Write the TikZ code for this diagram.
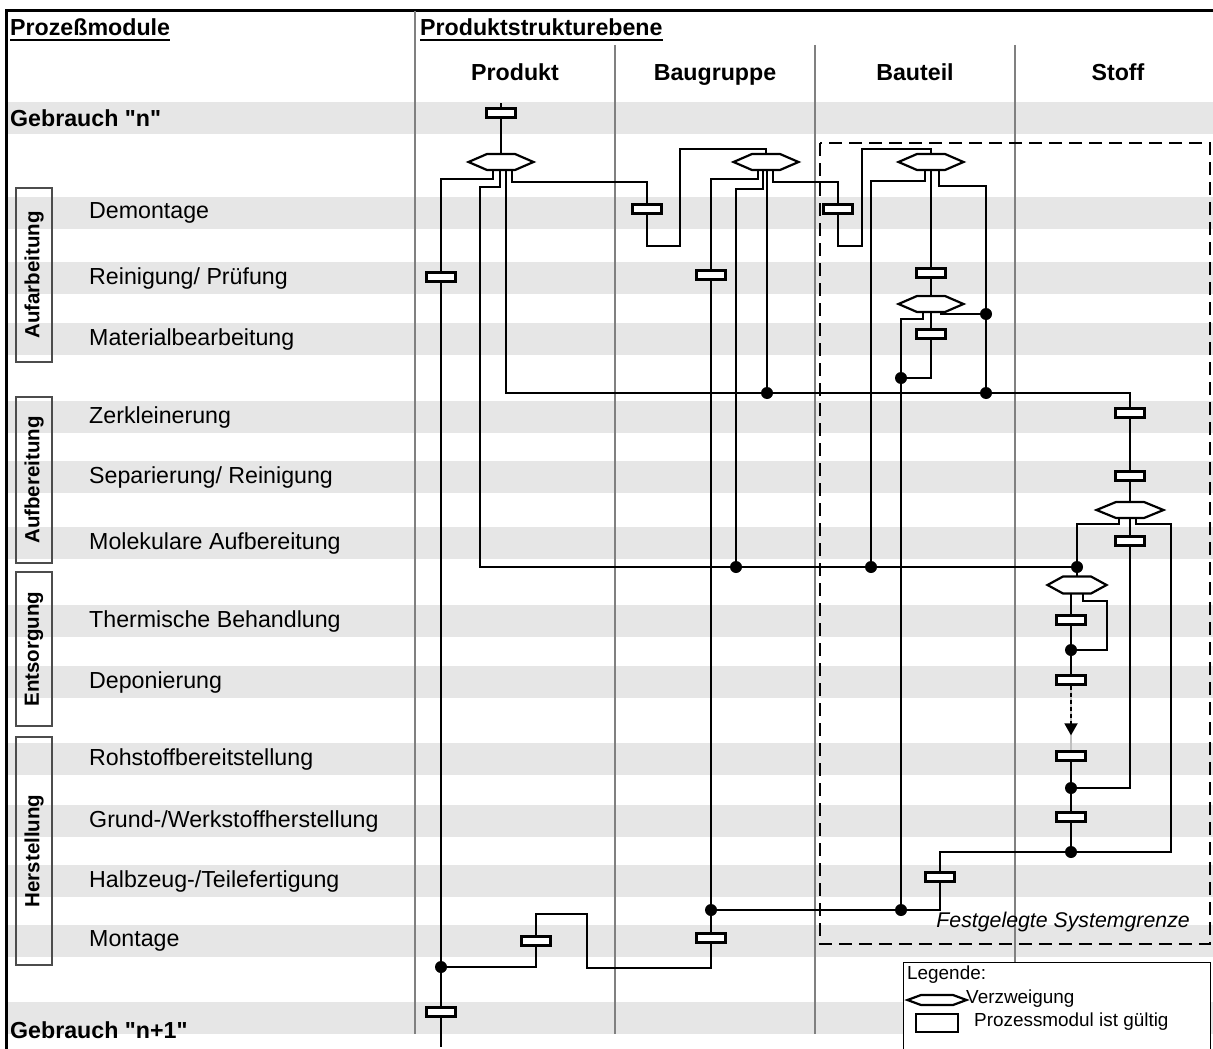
\documentclass[tikz,border=0pt]{standalone}
\usepackage{fontspec}
\setmainfont{Liberation Sans}
% same family without the TeX input mapping, so that " stays a straight quote
\newfontfamily\straightqfont{Liberation Sans}
\usetikzlibrary{calc,arrows.meta}

\definecolor{bandgrey}{RGB}{230,230,230}
\definecolor{colgrey}{RGB}{128,128,128}

% branching symbol: an invisible box carrying the anchors, outlined as a flat hexagon
\newcommand\vzw[5]{%
  \node[vzbox, minimum width=#3pt, minimum height=#4pt] (#1) at #2 {};
  \draw[vzline] (#1.west) -- ([xshift=-#5pt]#1.north) -- ([xshift=#5pt]#1.north)
    -- (#1.east) -- ([xshift=#5pt]#1.south) -- ([xshift=-#5pt]#1.south) -- cycle;}

\begin{document}
\begin{tikzpicture}[x=1pt,y=-1pt,
  rowlab/.style={font=\fontsize{23.2}{28}\selectfont, anchor=west, inner sep=0pt},
  hdr/.style={font=\bfseries\fontsize{23.2}{28}\selectfont, inner sep=0pt},
  usehdr/.style={font=\straightqfont\bfseries\fontsize{23.2}{28}\selectfont, inner sep=0pt, anchor=base west},
  grpbox/.style={draw=black!70, line width=1.2pt, rotate=90, inner sep=0pt,
    minimum height=36pt, font=\bfseries\fontsize{20.5}{24}\selectfont},
  pm/.style={draw, line width=2.3pt, fill=white, minimum width=29pt, minimum height=9pt, inner sep=0pt},
  vzbox/.style={inner sep=0pt, outer sep=0pt},
  vzline/.style={draw, line width=2.2pt, fill=white, line join=miter},
  jn/.style={circle, fill=black, inner sep=0pt, minimum size=12pt},
  cn/.style={line width=2.1pt},
  legtext/.style={font=\fontsize{18.9}{22}\selectfont, anchor=west, inner sep=0pt}]

\useasboundingbox (0,0) rectangle (1213,1049);

% row bands
\foreach \yc in {118,213,278,339,417,477,543,621,682,759,821,881,941,1018}
  \fill[bandgrey] (8,\yc-16) rectangle (1213,\yc+16);

% frame
\draw[line width=3pt] (6,1049) -- (6,11) -- (1213,11);

% column separators
\draw[colgrey, line width=1.5pt] (415,11) -- (415,1034);
\foreach \x in {615,815,1015}
  \draw[colgrey, line width=1.5pt] (\x,45) -- (\x,1034);

% headings
\node[hdr, anchor=base west] (hP) at (10,36) {Prozeßmodule};
\draw[line width=2pt] ([yshift=-4pt]hP.base west) -- ([yshift=-4pt]hP.base east);
\node[hdr, anchor=base west] (hS) at (420,36) {Produktstrukturebene};
\draw[line width=2pt] ([yshift=-4pt]hS.base west) -- ([yshift=-4pt]hS.base east);

\node[hdr, anchor=base] (cP) at (515,81) {Produkt};
\node[hdr, anchor=base] (cB) at (715,81) {Baugruppe};
\node[hdr, anchor=base] (cT) at (915,81) {Bauteil};
\node[hdr, anchor=base] (cS) at (1118,81) {Stoff};

% process module labels
\node[usehdr] (gn) at (10,126) {Gebrauch "n"};
\node[usehdr] (gn1) at (10,1038) {Gebrauch "n+1"};
\node[rowlab] (r1) at (89,213) {Demontage};
\node[rowlab] (r2) at (89,278) {Reinigung/ Prüfung};
\node[rowlab] (r3) at (89,339) {Materialbearbeitung};
\node[rowlab] (r4) at (89,417) {Zerkleinerung};
\node[rowlab] (r5) at (89,477) {Separierung/ Reinigung};
\node[rowlab] (r6) at (89,543) {Molekulare Aufbereitung};
\node[rowlab] (r7) at (89,621) {Thermische Behandlung};
\node[rowlab] (r8) at (89,682) {Deponierung};
\node[rowlab] (r9) at (89,759) {Rohstoffbereitstellung};
\node[rowlab] (r10) at (89,821) {Grund-/Werkstoffherstellung};
\node[rowlab] (r11) at (89,881) {Halbzeug-/Teilefertigung};
\node[rowlab] (r12) at (89,941) {Montage};

% groups of process modules
\node[grpbox, minimum width=174pt] (gA) at (34,275) {Aufarbeitung};
\node[grpbox, minimum width=166pt] (gB) at (34,480) {Aufbereitung};
\node[grpbox, minimum width=154pt] (gC) at (34,649) {Entsorgung};
\node[grpbox, minimum width=228pt] (gD) at (34,851) {Herstellung};

% system boundary
\draw[line width=2.4pt, dash pattern=on 13pt off 7pt] (820,143) rectangle (1210,944);
\node[font=\itshape\fontsize{21.3}{25}\selectfont, anchor=east, inner sep=0pt] (sg) at (1190,922) {Festgelegte Systemgrenze};

% free ends of the product stream
\coordinate (uTop) at (501,103);
\coordinate (pEnd) at (441,1047);

% process modules
\node[pm] (g1) at (501,113) {};
\node[pm] (p1) at (441,277) {};
\node[pm] (p2) at (441,1012) {};
\node[pm] (pMont) at (536,941) {};
\node[pm] (b1) at (647,209) {};
\node[pm] (b2) at (711,275) {};
\node[pm] (bMont) at (711,938) {};
\node[pm] (t1) at (838,209) {};
\node[pm] (t2) at (931,273) {};
\node[pm] (t3) at (931,334) {};
\node[pm] (tH) at (940,877) {};
\node[pm] (s1) at (1130,413) {};
\node[pm] (s2) at (1130,476) {};
\node[pm] (s3) at (1130,541) {};
\node[pm] (s4) at (1071,620) {};
\node[pm] (s5) at (1071,680) {};
\node[pm] (s6) at (1071,756) {};
\node[pm] (s7) at (1071,817) {};

% junctions
\node[jn] (d1) at (441,967) {};
\node[jn] (d2) at (711,910) {};
\node[jn] (d3) at (901,910) {};
\node[jn] (d4) at (767,393) {};
\node[jn] (d5) at (986,393) {};
\node[jn] (d6) at (986,314) {};
\node[jn] (d7) at (901,378) {};
\node[jn] (d8) at (736,567) {};
\node[jn] (d9) at (871,567) {};
\node[jn] (d10) at (1077,567) {};
\node[jn] (d11) at (1071,650) {};
\node[jn] (d12) at (1071,788) {};
\node[jn] (d13) at (1071,852) {};

% flows
\begin{scope}[cn]
  % product level
  \draw (uTop) -- (g1);
  \draw (g1) -- (501,154);
  \draw ([xshift=-8pt]501,170) -- ++(0,9) -| (p1.north);
  \draw (p1) -- (d1); \draw (d1) -- (p2); \draw (p2) -- (pEnd);
  \draw ([xshift=-1pt]501,170) -- ++(0,17) -- ++(-20,0) |- (d10);
  \draw ([xshift=5pt]501,170) -- ++(0,223) -| (s1.north);
  \draw ([xshift=11pt]501,170) -- ++(0,12) -| (b1.north);
  % assembly level
  \draw (b1.south) -- ++(0,31) -- ++(33,0) -- ++(0,-96.5) -| (766,154);
  \draw ([xshift=-8pt]766,170) -- ++(0,9) -| (b2.north);
  \draw (b2) -- (d2); \draw (d2) -- (bMont);
  \draw (bMont.south) -- ++(0,24) -- ++(-124,0) -- ++(0,-54) -| (pMont.north);
  \draw (pMont.south) |- (d1);
  \draw ([xshift=-3pt]766,170) -- ++(0,19) -| (d8);
  \draw (d4 |- 0,170) -- (d4);
  \draw ([xshift=7pt]766,170) -- ++(0,12) -| (t1.north);
  % component level
  \draw (t1.south) -- ++(0,31) -- ++(24,0) -- ++(0,-96.5) -| (931,154);
  \draw ([xshift=-6pt]931,170) -- ++(0,11) -| (d9);
  \draw (931,170) -- (t2.north); \draw (t2.south) -- (931,296);
  \draw ([xshift=8pt]931,170) -- ++(0,16) -| (d6);
  \draw (d6) -- (d5);
  \draw ([xshift=-8pt]931,312) -- ++(0,7) -| (d7);
  \draw (d7) -- (d3);
  \draw (931,312) -- (t3.north);
  \draw (t3.south) |- (d7);
  \draw ([xshift=10pt]931,312) |- (d6);
  \draw (d2) -| (tH.south);
  \draw (tH.north) |- (d13);
  % material level
  \draw (s1) -- (s2); \draw (s2.south) -- (1130,502);
  \draw ([xshift=-11pt]1130,518) -- ++(0,6) -| (d10);
  \draw (1130,518) -- (s3.north);
  \draw (s3.south) |- (d12);
  \draw ([xshift=6pt]1130,518) -- ++(0,6) -- ++(35,0) |- (d13);
  \draw (d10) -- (1077,576.5);
  \draw (s4.north |- 0,593.5) -- (s4.north);
  \draw ([xshift=6pt]1077,593.5) -- ++(0,7.5) -- ++(24,0) |- (d11);
  \draw (s4) -- (d11); \draw (d11) -- (s5);
  \draw (s6) -- (d12); \draw (d12) -- (s7); \draw (s7) -- (d13);
\end{scope}

% landfill back to raw material supply
\coordinate (atip) at ($(s6.north)+(0,-15)$);
\draw[line width=1.8pt, black!25] (s5.south) -- (s6.north);
\draw[line width=1.8pt, dash pattern=on 4pt off 3pt, -{Triangle[width=13pt,length=12pt]}] (s5.south) -- (atip);

% branchings
\vzw{H1}{(501,162)}{65}{16}{14}
\vzw{H2}{(766,162)}{65}{16}{14}
\vzw{H3}{(931,162)}{65}{16}{14}
\vzw{H4}{(931,304)}{65}{16}{14}
\vzw{H5}{(1130,510)}{67}{16}{14}
\vzw{H6}{(1077,585)}{59}{17}{14}

% legend
\node[draw, line width=1.3pt, fill=white, anchor=north west, inner sep=0pt,
  minimum width=307pt, minimum height=98pt] (leg) at (903,962) {};
\node[legtext] (l0) at (907,975) {Legende:};
\vzw{lh}{(937,1000)}{59}{10}{16}
\node[legtext] (l1) at (966,999) {Verzweigung};
\node[draw, line width=1.5pt, minimum width=42pt, minimum height=18pt, inner sep=0pt] (lr) at (937,1023) {};
\node[legtext] (l2) at (974,1022) {Prozessmodul ist gültig};

\end{tikzpicture}
\end{document}
